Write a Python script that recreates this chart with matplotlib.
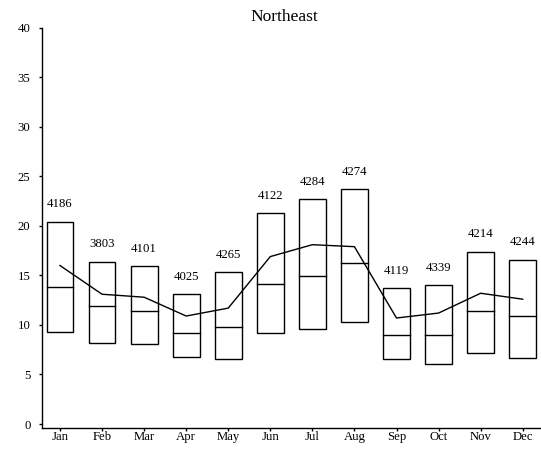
import matplotlib
matplotlib.use("Agg")
import matplotlib.pyplot as plt
from matplotlib.patches import Rectangle

plt.rcParams["font.family"] = ["Liberation Serif", "DejaVu Serif"]

months = ["Jan", "Feb", "Mar", "Apr", "May", "Jun",
          "Jul", "Aug", "Sep", "Oct", "Nov", "Dec"]
box_low = [9.3, 8.2, 8.1, 6.8, 6.6, 9.2, 9.6, 10.3, 6.6, 6.1, 7.2, 6.7]
box_high = [20.4, 16.4, 15.9, 13.1, 15.3, 21.3, 22.7, 23.7, 13.7, 14.0, 17.4, 16.6]
medians = [13.8, 11.9, 11.4, 9.2, 9.8, 14.1, 14.9, 16.3, 9.0, 9.0, 11.4, 10.9]
means = [16.0, 13.1, 12.8, 10.9, 11.7, 16.9, 18.1, 17.9, 10.7, 11.2, 13.2, 12.6]
counts = [4186, 3803, 4101, 4025, 4265, 4122, 4284, 4274, 4119, 4339, 4214, 4244]

W, H = 541, 450
fig = plt.figure(figsize=(W / 100, H / 100), dpi=100)
ax = fig.add_axes([42.3 / W, (H - 427.7) / H, 1 - 42.3 / W, (427.7 - 27.7) / H])

FS = 9.2
box_w = 0.64
pos = list(range(1, len(months) + 1))
for x, lo, hi, med, n in zip(pos, box_low, box_high, medians, counts):
    ax.add_patch(Rectangle((x - box_w / 2, lo), box_w, hi - lo,
                           fill=False, edgecolor="black", linewidth=1.0))
    ax.plot([x - box_w / 2, x + box_w / 2], [med, med], color="black", linewidth=1.0)
    ax.annotate(str(n), (x, hi), xytext=(0, 10.4), textcoords="offset points",
                ha="center", va="baseline", fontsize=FS)

ax.plot(pos, means, color="black", linewidth=1.0)

ax.set_xlim(0.58, 12.435)
ax.set_ylim(-0.37, 40)
ax.set_xticks(pos)
ax.set_xticklabels(months)
ax.set_yticks(range(0, 41, 5))
ax.tick_params(axis="y", labelsize=FS, length=2.2, width=1.0, pad=6.3)
ax.tick_params(axis="x", labelsize=FS, length=1.8, width=1.0, pad=0.8)
for s in ["top", "right"]:
    ax.spines[s].set_visible(False)
ax.spines["left"].set_bounds(-0.37, 40)
for s in ["left", "bottom"]:
    ax.spines[s].set_linewidth(1.0)

fig.text(284 / W, 1 - 20.7 / H, "Northeast", ha="center", va="baseline", fontsize=12.5)

fig.savefig("out.png", dpi=100)
